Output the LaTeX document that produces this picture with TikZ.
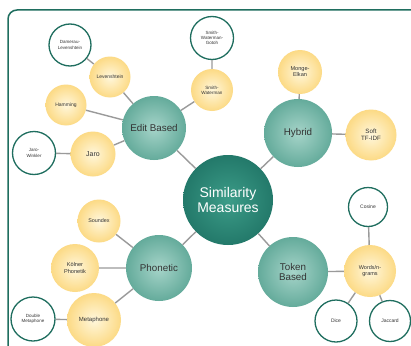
\documentclass[tikz,border=0pt]{standalone}
\usepackage{fontspec}
\setmainfont{Liberation Sans}
\definecolor{hubin}{HTML}{3C9C88}
\definecolor{hubout}{HTML}{23796A}
\definecolor{catin}{HTML}{A6D4C9}
\definecolor{catout}{HTML}{64AB9B}
\definecolor{leafin}{HTML}{FFF7DC}
\definecolor{leafout}{HTML}{FCDA85}
\definecolor{frame}{HTML}{1F6E5F}
\definecolor{linkgray}{HTML}{9A9A9A}
\definecolor{txt}{HTML}{333333}
\begin{document}
\begin{tikzpicture}[x=1pt,y=-1pt,
  hub/.style={circle, inner sep=0pt, minimum size=90pt, inner color=hubin, outer color=hubout,
    text=white, font=\fontsize{14}{15.5}\selectfont, align=center},
  cat/.style={circle, inner sep=0pt, minimum size=66pt, inner color=catin, outer color=catout,
    text=txt, font=\fontsize{9.8}{10.8}\selectfont, align=center},
  leaf/.style={circle, inner sep=0pt, minimum size=42pt, inner color=leafin, outer color=leafout,
    text=txt, font=\fontsize{5}{5.6}\selectfont, align=center},
  ext/.style={circle, inner sep=0pt, minimum size=42pt, fill=white, draw=frame, line width=1.3pt,
    text=txt, font=\fontsize{4.5}{5.1}\selectfont, align=center},
  link/.style={draw=linkgray, line width=1.4pt}
]
\useasboundingbox (0,0) rectangle (411,345);
\clip (0,0) rectangle (411,345);
\fill[white] (0,0) rectangle (411,345);

% outer frame
\draw[frame, line width=1.5pt, rounded corners=9pt] (8,400) -- (8,10) -- (430,10);

% hub and categories
\node[hub] (sim) at (228,200) {Similarity\\Measures};
\node[cat, minimum size=64pt] (edit) at (154,128) {Edit Based};
\node[cat, minimum size=68pt] (hyb) at (298,133) {Hybrid};
\node[cat] (phon) at (159,268) {Phonetic};
\node[cat, minimum size=70pt] (tok) at (293,272) {Token\\Based};

% edit based
\node[leaf, minimum size=41pt] (lev) at (110,77) {Levenshtein};
\node[leaf, minimum size=41pt] (ham) at (66,105) {Hamming};
\node[leaf, minimum size=45pt, font=\fontsize{7}{8}\selectfont] (jaro) at (93,154) {Jaro};
\node[leaf, minimum size=42pt, font=\fontsize{4.6}{5.2}\selectfont] (sw) at (212,90) {Smith-\\Waterman};
\node[ext, minimum size=42pt] (dam) at (70,45) {Damerau-\\Levenshtein};
\node[ext, minimum size=43pt] (jw) at (34,153) {Jaro-\\Winkler};
\node[ext, minimum size=43pt] (swg) at (212,38) {Smith-\\Waterman-\\Gotoh};

% hybrid
\node[leaf, minimum size=44pt, font=\fontsize{5.6}{6.2}\selectfont] (monge) at (300,72) {Monge-\\Elkan};
\node[leaf, minimum size=51pt, font=\fontsize{6.2}{6.8}\selectfont] (soft) at (371,135) {Soft\\TF-IDF};

% phonetic
\node[leaf, minimum size=43pt, font=\fontsize{5.4}{6}\selectfont] (sdx) at (99,221) {Soundex};
\node[leaf, minimum size=48pt, font=\fontsize{5.6}{6.2}\selectfont] (koln) at (75,268) {Kölner\\Phonetik};
\node[leaf, minimum size=54pt, font=\fontsize{6}{7}\selectfont] (meta) at (94,320) {Metaphone};
\node[ext, minimum size=44pt] (dmeta) at (33,319) {Double\\Metaphone};

% token based
\node[leaf, minimum size=52pt, font=\fontsize{5.5}{6.1}\selectfont] (words) at (370,271) {Words/n-\\grams};
\node[ext, minimum size=39pt, font=\fontsize{5}{6}\selectfont] (cos) at (368,207) {Cosine};
\node[ext, minimum size=42pt, font=\fontsize{5}{6}\selectfont] (dice) at (336,321) {Dice};
\node[ext, minimum size=41pt, font=\fontsize{5}{6}\selectfont] (jac) at (390,321) {Jaccard};

% connectors
\path[link] (sim) -- (edit) (sim) -- (hyb) (sim) -- (phon) (sim) -- (tok)
  (edit) -- (lev) (edit) -- (ham) (edit) -- (jaro) (edit) -- (sw)
  (lev) -- (dam) (jaro) -- (jw) (sw) -- (swg)
  (hyb) -- (monge) (hyb) -- (soft)
  (phon) -- (sdx) (phon) -- (koln) (phon) -- (meta) (meta) -- (dmeta)
  (tok) -- (words) (words) -- (cos) (words) -- (dice) (words) -- (jac);
\end{tikzpicture}
\end{document}
